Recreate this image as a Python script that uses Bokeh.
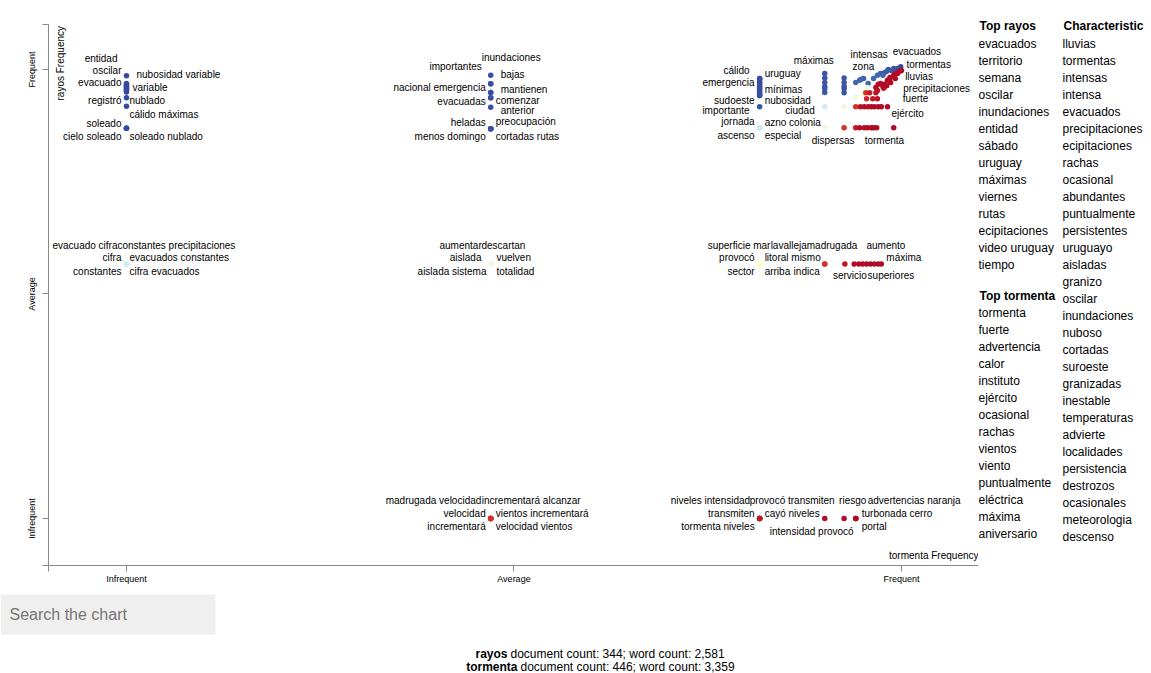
import math
from bokeh.plotting import figure
from bokeh.layouts import column, row
from bokeh.models import Range1d, FixedTicker, Label, ColumnDataSource, CustomJSTickFormatter
from bokeh.embed import file_html
from bokeh.resources import INLINE
from bokeh.core.properties import value

# ---------------- data ----------------
# (term, tormenta frequency position, rayos frequency position, score: 0 = tormenta ... 1 = rayos)
top_left_terms = [
    ("nubosidad variable", 0.0, 0.986, 0.97), ("evacuado", 0.0, 0.969, 0.97),
    ("oscilar", 0.0, 0.964, 0.97), ("variable", 0.0, 0.960, 0.97),
    ("entidad", 0.0, 0.955, 0.97), ("registró", 0.0, 0.950, 0.97),
    ("nublado", 0.0, 0.937, 0.97), ("cálido máximas", 0.0, 0.918, 0.97),
    ("soleado", 0.0, 0.869, 0.97), ("cielo soleado", 0.0, 0.869, 0.97),
    ("soleado nublado", 0.0, 0.869, 0.97),
]
middle_top_terms = [
    ("bajas", 0.470, 0.987, 0.96), ("inundaciones", 0.470, 0.968, 0.96),
    ("importantes", 0.470, 0.968, 0.96), ("nacional emergencia", 0.470, 0.949, 0.96),
    ("mantienen", 0.470, 0.949, 0.96), ("evacuadas", 0.470, 0.937, 0.96),
    ("comenzar", 0.470, 0.937, 0.96), ("anterior", 0.470, 0.916, 0.96),
    ("heladas", 0.470, 0.868, 0.96), ("preocupación", 0.470, 0.868, 0.96),
    ("menos domingo", 0.470, 0.868, 0.96), ("cortadas rutas", 0.470, 0.868, 0.96),
]
middle_row_terms = [
    ("evacuado cifra", 0.0, 0.567, 0.63), ("constantes precipitaciones", 0.0, 0.567, 0.63),
    ("cifra", 0.0, 0.567, 0.63), ("evacuados constantes", 0.0, 0.567, 0.63),
    ("constantes", 0.0, 0.567, 0.63), ("cifra evacuados", 0.0, 0.567, 0.63),
    ("aumentar", 0.471, 0.567, 0.55), ("descartan", 0.471, 0.567, 0.55),
    ("aislada", 0.471, 0.567, 0.55), ("vuelven", 0.471, 0.567, 0.55),
    ("aislada sistema", 0.471, 0.567, 0.55), ("totalidad", 0.471, 0.567, 0.55),
    ("superficie mar", 0.817, 0.567, 0.50), ("lavalleja", 0.817, 0.567, 0.50),
    ("provocó", 0.817, 0.567, 0.50), ("litoral mismo", 0.817, 0.567, 0.50),
    ("sector", 0.817, 0.567, 0.50), ("arriba", 0.817, 0.567, 0.50),
    ("madrugada", 0.901, 0.567, 0.10), ("indica", 0.901, 0.567, 0.10),
    ("servicio", 0.927, 0.567, 0.05), ("superiores", 0.955, 0.567, 0.02),
    ("aumento", 0.960, 0.567, 0.02), ("máxima", 0.974, 0.567, 0.02),
]
bottom_row_terms = [
    ("madrugada velocidad", 0.470, 0.0, 0.10), ("incrementará alcanzar", 0.470, 0.0, 0.10),
    ("velocidad", 0.470, 0.0, 0.10), ("vientos incrementará", 0.470, 0.0, 0.10),
    ("incrementará", 0.470, 0.0, 0.10), ("velocidad vientos", 0.470, 0.0, 0.10),
    ("niveles intensidad", 0.817, 0.0, 0.05), ("provocó transmiten", 0.817, 0.0, 0.05),
    ("transmiten", 0.817, 0.0, 0.05), ("cayó niveles", 0.817, 0.0, 0.05),
    ("tormenta niveles", 0.817, 0.0, 0.05), ("intensidad provocó", 0.901, 0.0, 0.02),
    ("riesgo", 0.926, 0.0, 0.02), ("advertencias naranja", 0.941, 0.0, 0.02),
    ("turbonada cerro", 0.941, 0.0, 0.02), ("portal", 0.941, 0.0, 0.02),
]
top_right_terms = [
    ("cálido", 0.817, 0.980, 0.96), ("uruguay", 0.817, 0.980, 0.96),
    ("emergencia", 0.817, 0.973, 0.96), ("mínimas", 0.817, 0.956, 0.96),
    ("sudoeste", 0.817, 0.942, 0.96), ("nubosidad", 0.817, 0.942, 0.96),
    ("importante", 0.817, 0.917, 0.95), ("jornada", 0.817, 0.870, 0.64),
    ("azno colonia", 0.817, 0.870, 0.64), ("ascenso", 0.817, 0.870, 0.64),
    ("especial", 0.817, 0.870, 0.64), ("máximas", 0.901, 0.991, 0.95),
    ("ciudad", 0.901, 0.917, 0.63), ("dispersas", 0.901, 0.870, 0.55),
    ("zona", 0.946, 0.976, 0.93), ("intensas", 0.951, 0.980, 0.93),
    ("evacuados", 0.999, 1.006, 0.97), ("tormentas", 1.000, 0.998, 0.03),
    ("lluvias", 0.997, 0.996, 0.03), ("precipitaciones", 0.992, 0.991, 0.05),
    ("fuerte", 0.985, 0.982, 0.04), ("ejército", 0.982, 0.917, 0.02),
    ("tormenta", 0.968, 0.870, 0.02),
]
# unlabeled terms
other_tormenta_pos = [
    0.0, 0.0, 0.0, 0.0,
    0.817, 0.817, 0.817, 0.817, 0.817, 0.817, 0.817, 0.817,
    0.901, 0.901, 0.901, 0.901, 0.901,
    0.926, 0.926, 0.926, 0.926, 0.926, 0.926, 0.926,
    0.941, 0.948, 0.957, 0.964, 0.969, 0.973, 0.978, 0.983, 0.990, 0.995, 0.981, 0.987, 0.992, 0.976,
    0.941, 0.956, 0.951,
    0.941, 0.947, 0.952, 0.957, 0.961, 0.965, 0.970, 0.974,
    0.941, 0.946, 0.952, 0.956, 0.961, 0.964, 0.990,
    0.954, 0.959, 0.967, 0.955, 0.963, 0.969,
    0.967, 0.969, 0.973, 0.976, 0.978, 0.981, 0.982, 0.986, 0.986, 0.990, 0.992, 0.995, 0.999, 0.970, 0.977,
    0.939, 0.945, 0.950, 0.965, 0.970,
]
other_rayos_pos = [
    0.967, 0.962, 0.958, 0.953,
    0.978, 0.971, 0.967, 0.962, 0.960, 0.953, 0.949, 0.946,
    0.981, 0.971, 0.962, 0.957, 0.949,
    0.981, 0.971, 0.962, 0.957, 0.948, 0.917, 0.870,
    0.971, 0.978, 0.969, 0.980, 0.987, 0.991, 0.993, 1.000, 1.002, 1.002, 0.996, 0.998, 1.000, 0.987,
    0.938, 0.960, 0.947,
    0.917, 0.917, 0.917, 0.917, 0.917, 0.917, 0.917, 0.917,
    0.870, 0.870, 0.870, 0.870, 0.870, 0.870, 0.870,
    0.948, 0.948, 0.948, 0.935, 0.935, 0.935,
    0.960, 0.953, 0.969, 0.962, 0.967, 0.964, 0.976, 0.982, 0.971, 0.987, 0.980, 0.991, 0.997, 0.967, 0.958,
    0.567, 0.567, 0.567, 0.567, 0.567,
]
other_scores = [
    0.97, 0.97, 0.97, 0.97,
    0.96, 0.96, 0.96, 0.96, 0.96, 0.96, 0.96, 0.96,
    0.95, 0.95, 0.95, 0.95, 0.95,
    0.95, 0.95, 0.95, 0.95, 0.95, 0.55, 0.10,
    0.92, 0.92, 0.92, 0.92, 0.92, 0.94, 0.94, 0.95, 0.95, 0.96, 0.94, 0.95, 0.96, 0.92,
    0.55, 0.56, 0.53,
    0.10, 0.04, 0.03, 0.03, 0.02, 0.02, 0.02, 0.02,
    0.05, 0.03, 0.03, 0.02, 0.02, 0.02, 0.02,
    0.10, 0.06, 0.04, 0.08, 0.05, 0.04,
    0.03, 0.04, 0.02, 0.03, 0.02, 0.02, 0.02, 0.02, 0.02, 0.02, 0.02, 0.02, 0.02, 0.03, 0.04,
    0.02, 0.02, 0.02, 0.02, 0.02,
]

axis_tick_values = [0.0, 0.5, 1.0]
axis_tick_labels = ["Infrequent", "Average", "Frequent"]

top_rayos = ["evacuados", "territorio", "semana", "oscilar", "inundaciones", "entidad", "sábado",
             "uruguay", "máximas", "viernes", "rutas", "ecipitaciones", "video uruguay", "tiempo"]
top_tormenta = ["tormenta", "fuerte", "advertencia", "calor", "instituto", "ejército", "ocasional",
                "rachas", "vientos", "viento", "puntualmente", "eléctrica", "máxima", "aniversario"]
characteristic = ["lluvias", "tormentas", "intensas", "intensa", "evacuados", "precipitaciones",
                  "ecipitaciones", "rachas", "ocasional", "abundantes", "puntualmente", "persistentes",
                  "uruguayo", "aisladas", "granizo", "oscilar", "inundaciones", "nuboso", "cortadas",
                  "suroeste", "granizadas", "inestable", "temperaturas", "advierte", "localidades",
                  "persistencia", "destrozos", "ocasionales", "meteorologia", "descenso"]
category_names = ["rayos", "tormenta"]
document_counts = [344, 446]
word_counts = ["2,581", "3,359"]

# ---------------- label layout (pixel offsets from each term's point) ----------------
label_offsets = {
    "nubosidad variable": (10, -1, "left"), "evacuado": (-5, -1, "right"), "oscilar": (-5, -15, "right"),
    "variable": (6, 0, "left"), "entidad": (-9, -31, "right"), "registró": (-5, 9, "right"),
    "nublado": (3, 3, "left"), "cálido máximas": (3, 8, "left"), "soleado": (-5, -5, "right"),
    "cielo soleado": (-5, 8, "right"), "soleado nublado": (3, 8, "left"),
    "bajas": (10, -1, "left"), "inundaciones": (-9, -26, "left"), "importantes": (-9, -17, "right"),
    "nacional emergencia": (-5, -5, "right"), "mantienen": (10, -3, "left"), "evacuadas": (-5, 4, "right"),
    "comenzar": (5, 3, "left"), "anterior": (10, 3, "left"), "heladas": (-5, -6, "right"),
    "preocupación": (5, -7, "left"), "menos domingo": (-5, 8, "right"), "cortadas rutas": (5, 8, "left"),
    "evacuado cifra": (-74, -18, "left"), "constantes precipitaciones": (-9, -18, "left"),
    "cifra": (-5, -6, "right"), "evacuados constantes": (3, -6, "left"), "constantes": (-5, 8, "right"),
    "cifra evacuados": (3, 8, "left"), "aumentar": (-52, -18, "left"), "descartan": (-10, -18, "left"),
    "aislada": (-10, -6, "right"), "vuelven": (5, -6, "left"), "aislada sistema": (-5, 8, "right"),
    "totalidad": (5, 8, "left"), "superficie mar": (-52, -18, "left"), "lavalleja": (11, -18, "left"),
    "provocó": (-5, -6, "right"), "litoral mismo": (5, -6, "left"), "sector": (-5, 8, "right"),
    "arriba": (5, 8, "left"), "madrugada": (-18, -18, "left"), "indica": (-5, 8, "right"),
    "servicio": (-12, 12, "left"), "superiores": (1, 12, "left"), "aumento": (-4, -18, "left"),
    "máxima": (5, -6, "left"),
    "madrugada velocidad": (-105, -18, "left"), "incrementará alcanzar": (-9, -18, "left"),
    "velocidad": (-5, -5, "right"), "vientos incrementará": (5, -5, "left"), "incrementará": (-5, 8, "right"),
    "velocidad vientos": (5, 8, "left"), "niveles intensidad": (-89, -18, "left"),
    "provocó transmiten": (-10, -18, "left"), "transmiten": (-5, -5, "right"), "cayó niveles": (5, -5, "left"),
    "tormenta niveles": (-5, 8, "right"), "intensidad provocó": (-55, 13, "left"), "riesgo": (-5, -18, "left"),
    "advertencias naranja": (12, -18, "left"), "turbonada cerro": (6, -5, "left"), "portal": (6, 8, "left"),
    "cálido": (-10, -8, "right"), "uruguay": (5, -5, "left"), "emergencia": (-5, 1, "right"),
    "mínimas": (5, 0, "left"), "sudoeste": (-5, 5, "right"), "nubosidad": (5, 5, "left"),
    "importante": (-10, 4, "right"), "jornada": (-5, -6, "right"), "azno colonia": (5, -5, "left"),
    "ascenso": (-5, 8, "right"), "especial": (5, 8, "left"), "máximas": (-31, -13, "left"),
    "ciudad": (-10, 4, "right"), "dispersas": (-13, 13, "left"), "zona": (-7, -14, "left"),
    "intensas": (-13, -24, "left"), "evacuados": (-8, -15, "left"), "tormentas": (5, -6, "left"),
    "lluvias": (6, 5, "left"), "precipitaciones": (8, 15, "left"), "fuerte": (13, 21, "left"),
    "ejército": (4, 7, "left"), "tormenta": (-12, 13, "left"),
}

# ---------------- geometry ----------------
W, H = 1151, 673
MAIN_H = 590
FRAME_L, FRAME_R, FRAME_T, FRAME_B = 48, 978, 24, 565
X_START, X_END = -0.1006, 1.0994
Y_START, Y_END = -0.1047, 1.1002
PX_X = (FRAME_R - FRAME_L) / (X_END - X_START)
PX_Y = (FRAME_B - FRAME_T) / (Y_END - Y_START)

RDYLBU = ["#a50026", "#d73027", "#f46d43", "#fdae61", "#fee090", "#ffffbf",
          "#e0f3f8", "#abd9e9", "#74add1", "#4575b4", "#313695"]


def score_color(s):
    t = max(0.0, min(1.0, s)) * (len(RDYLBU) - 1)
    i = min(int(t), len(RDYLBU) - 2)
    f = t - i
    a, b = RDYLBU[i], RDYLBU[i + 1]
    rgb = [round(int(a[k:k + 2], 16) * (1 - f) + int(b[k:k + 2], 16) * f) for k in (1, 3, 5)]
    return "#%02x%02x%02x" % tuple(rgb)


FONT = "Liberation Sans"

p = figure(width=FRAME_R, height=MAIN_H, output_backend="svg", toolbar_location=None,
           x_range=Range1d(X_START, X_END), y_range=Range1d(Y_START, Y_END),
           min_border_left=FRAME_L, min_border_right=0,
           min_border_top=FRAME_T, min_border_bottom=MAIN_H - FRAME_B)
p.outline_line_color = None
p.grid.visible = False

# ---------------- points ----------------
labeled = top_left_terms + middle_top_terms + middle_row_terms + bottom_row_terms + top_right_terms
pts = [(t[1], t[2], t[3]) for t in labeled] + list(zip(other_tormenta_pos, other_rayos_pos, other_scores))
pts.sort(key=lambda r: -r[2])
src = ColumnDataSource(dict(x=[r[0] for r in pts], y=[r[1] for r in pts],
                            color=[score_color(r[2]) for r in pts]))
p.scatter("x", "y", source=src, size=5.5, fill_color="color", line_color=None)

# ---------------- term labels ----------------
for side_name in ("left", "right"):
    rows = [t for t in labeled if label_offsets[t[0]][2] == side_name]
    lsrc = ColumnDataSource(dict(
        x=[t[1] + label_offsets[t[0]][0] / PX_X for t in rows],
        y=[t[2] - label_offsets[t[0]][1] / PX_Y for t in rows],
        text=[t[0] for t in rows]))
    p.text("x", "y", text="text", source=lsrc, text_align=side_name, text_baseline="middle",
           text_font=value(FONT), text_font_size="10px", text_color="#000000")

# ---------------- axes ----------------
fmt = CustomJSTickFormatter(args=dict(vals=axis_tick_values, labels=axis_tick_labels), code="""
for (let i = 0; i < vals.length; i++) { if (Math.abs(tick - vals[i]) < 1e-6) return labels[i]; }
return '';
""")
p.xaxis.ticker = FixedTicker(ticks=[X_START + 1e-6] + axis_tick_values + [X_END - 1e-6])
p.yaxis.ticker = FixedTicker(ticks=[Y_START + 1e-6] + axis_tick_values + [Y_END - 1e-6])
for ax in (p.xaxis, p.yaxis):
    ax.formatter = fmt
    ax.axis_line_color = "#888888"
    ax.major_tick_line_color = "#888888"
    ax.major_tick_out = 6
    ax.major_tick_in = 0
    ax.minor_tick_line_color = None
    ax.major_label_text_font = FONT
    ax.major_label_text_font_size = "9px"
    ax.major_label_text_color = "#000000"
p.xaxis.major_label_standoff = 2
p.yaxis.major_label_orientation = "vertical"
p.yaxis.major_label_standoff = 5

# axis titles inside the plot area
p.add_layout(Label(x=X_START + (60 - FRAME_L) / PX_X, y=Y_END - 1.5 / PX_Y,
                   text=category_names[0] + " Frequency", text_font=FONT, text_font_size="10px",
                   text_color="#000000", text_align="right", text_baseline="middle", angle=math.pi / 2))
p.add_layout(Label(x=X_END, y=Y_START + 10 / PX_Y,
                   text=category_names[1] + " Frequency", text_font=FONT, text_font_size="10px",
                   text_color="#000000", text_align="right", text_baseline="middle"))


def panel(width, height, x0, y0):
    f = figure(width=width, height=height, output_backend="svg", toolbar_location=None,
               x_range=Range1d(x0, x0 + width), y_range=Range1d(y0 + height, y0),
               min_border=0, x_axis_type=None, y_axis_type=None)
    f.outline_line_color = None
    f.grid.visible = False
    if "frame_align" in f.properties():
        f.frame_align = False
    return f


def put_texts(f, xs, ys, texts, size="12px", style="normal", align="left", color="#000000"):
    f.text(x=xs, y=ys, text=texts, text_font=value(FONT), text_font_size=size, text_font_style=style,
           text_align=align, text_baseline="middle", text_color=color)


# ---------------- side lists ----------------
side = panel(W - FRAME_R, MAIN_H, FRAME_R, 0)
put_texts(side, [979, 979, 1063], [25, 295, 25],
          ["Top " + category_names[0], "Top " + category_names[1], "Characteristic"], style="bold")
put_texts(side, [978] * len(top_rayos), [43 + 17 * i for i in range(len(top_rayos))], top_rayos)
put_texts(side, [978] * len(top_tormenta), [312 + 17 * i for i in range(len(top_tormenta))], top_tormenta)
put_texts(side, [1062] * len(characteristic), [43 + 17 * i for i in range(len(characteristic))], characteristic)

# ---------------- bottom: search box & counts ----------------
bottom = panel(W, H - MAIN_H, 0, MAIN_H)
bottom.quad(left=[0], right=[215], top=[594], bottom=[634], fill_color="#efefef", line_color=None)
put_texts(bottom, [9], [614], ["Search the chart"], size="16px", color="#757575")
ends = [507, 517]
put_texts(bottom, ends, [653, 666], category_names, style="bold", align="right")
put_texts(bottom, [e + 3 for e in ends], [653, 666],
          ["document count: %d; word count: %s" % (d, w) for d, w in zip(document_counts, word_counts)])

layout = column(row(p, side, spacing=0), bottom, spacing=0)
open("out.html", "w").write(file_html(layout, INLINE))
